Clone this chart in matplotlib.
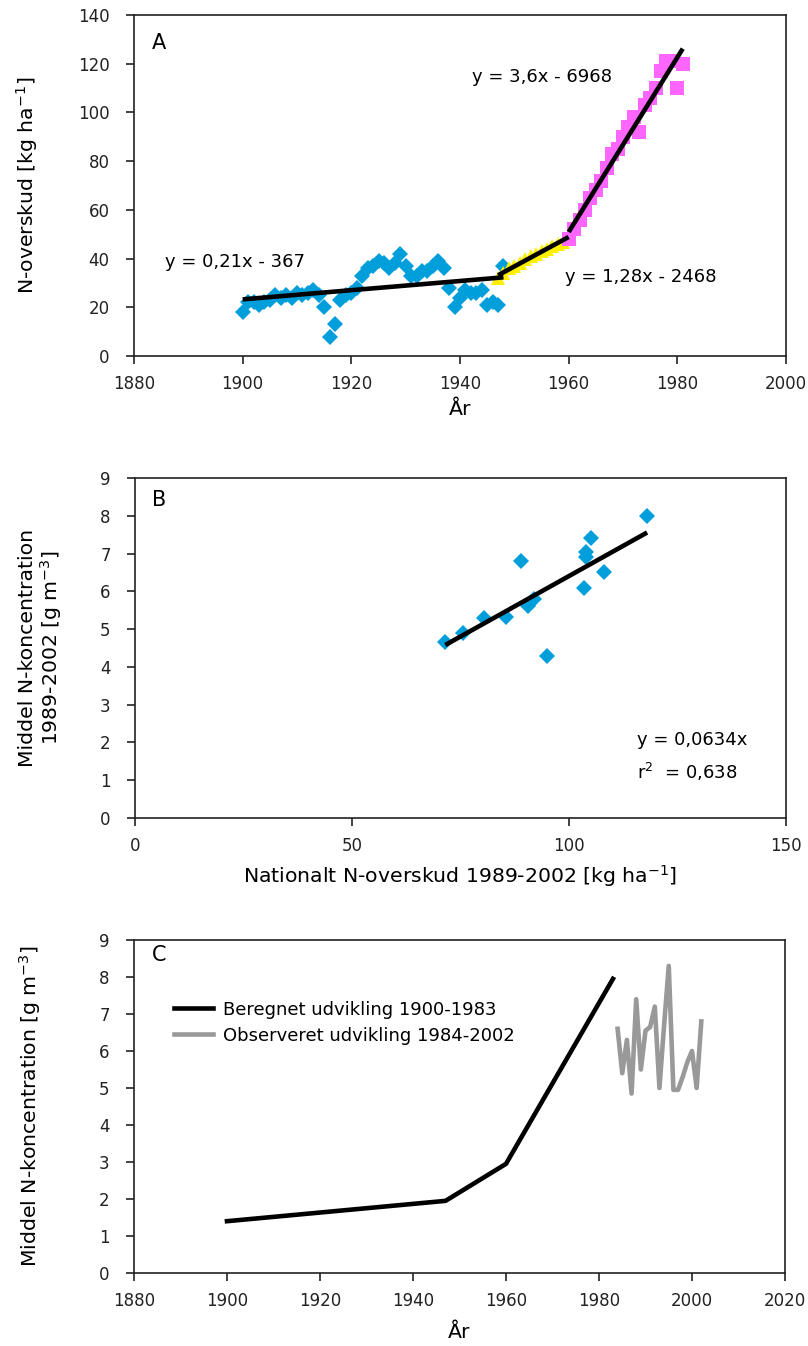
import numpy as np
import matplotlib
matplotlib.use("Agg")
import matplotlib.pyplot as plt

plt.rcParams['font.family'] = ['DejaVu Sans']
plt.rcParams['mathtext.fontset'] = 'dejavusans'

# ---------------- data ----------------
# Panel A: N-surplus per year, three periods
blue_years = list(range(1900, 1949))
blue_vals = [18, 22, 22, 21, 22, 23, 25, 24, 25, 24,
             26, 25, 26, 27, 25, 20, 8, 13, 23, 25,
             26, 28, 33, 36, 37, 39, 38, 36, 38, 42,
             37, 33, 33, 35, 35, 37, 39, 36, 28, 20,
             24, 27, 26, 26, 27, 21, 22, 21, 37]
yellow_years = list(range(1947, 1961))
yellow_vals = [32, 34, 36, 37, 38, 40, 41, 42, 43, 44, 45, 46, 47, 49]
magenta_years = list(range(1960, 1982))
magenta_vals = [48, 52, 56, 60, 65, 68, 72, 77, 83, 85, 90,
                94, 98, 92, 103, 106, 110, 117, 121, 121, 110, 120]
eq_labels_A = ["y = 0,21x - 367", "y = 1,28x - 2468", "y = 3,6x - 6968"]

# Panel B: national N surplus vs mean N concentration 1989-2002
b_surplus = [71.5, 75.5, 80.5, 85.5, 89.0, 90.5, 92.0, 95.0,
             103.5, 104.0, 104.0, 105.0, 108.0, 118.0]
b_conc = [4.65, 4.9, 5.3, 5.33, 6.8, 5.6, 5.8, 4.3,
          6.1, 7.05, 6.9, 7.4, 6.5, 8.0]
eq_label_B = "y = 0,0634x"
r2_label_B = "r$^2$  = 0,638"

# Panel C: calculated and observed development
calc_years = [1900, 1947, 1960, 1983]
calc_conc = [1.4, 1.95, 2.95, 7.95]
obs_years = list(range(1984, 2003))
obs_conc = [6.6, 5.4, 6.3, 4.85, 7.4, 5.5, 6.55, 6.65, 7.2, 5.0,
            6.7, 8.3, 4.95, 4.95, 5.3, 5.7, 6.0, 5.0, 6.8]

# ---------------- figure ----------------
W, H = 808, 1346
fig = plt.figure(figsize=(W / 100, H / 100), dpi=100)


def add_ax(l, t, r, b):
    return fig.add_axes([l / W, 1 - b / H, (r - l) / W, (b - t) / H])


TICK_FS = 12
LABEL_FS = 14.7
ANN_FS = 13


def style(ax):
    for s in ax.spines.values():
        s.set_linewidth(1.2)
        s.set_color('#222222')
    ax.tick_params(direction='out', length=5.5, width=1.2, labelsize=TICK_FS,
                   colors='#222222', top=False, right=False)
    ax.tick_params(axis='y', pad=12)
    ax.tick_params(axis='x', pad=8)


def ftext(x, y, s, **kw):
    fig.text(x / W, 1 - y / H, s, **kw)


BLUE = '#009FDB'
YELLOW = '#FFF000'
MAGENTA = '#FF66FF'
GRAY = '#999999'

# Panel A
axA = add_ax(134, 15, 786, 356)
style(axA)
axA.plot(blue_years, blue_vals, 'D', color=BLUE, ms=7.8, mew=0, zorder=2)
axA.plot(yellow_years, yellow_vals, '^', color=YELLOW, ms=10, mew=0, zorder=2)
axA.plot(magenta_years, magenta_vals, 's', color=MAGENTA, ms=10, mew=0, zorder=2)
for yrs, vals in [(blue_years, blue_vals), (yellow_years, yellow_vals),
                  (magenta_years, magenta_vals)]:
    c = np.polyfit(yrs, vals, 1)
    xs = np.array([yrs[0], yrs[-1]], dtype=float)
    axA.plot(xs, np.polyval(c, xs), color='black', lw=3.3,
             solid_capstyle='butt', zorder=3)
axA.set_xlim(1880, 2000)
axA.set_ylim(0, 140)
axA.set_xticks(range(1880, 2001, 20))
axA.set_yticks(range(0, 141, 20))
axA.set_xlabel("År", fontsize=LABEL_FS, va='center')
axA.xaxis.set_label_coords(0.5, (356 - 410) / 341)
axA.set_ylabel("N-overskud [kg ha$^{-1}$]", fontsize=LABEL_FS, va='center')
axA.yaxis.set_label_coords((27 - 134) / 652, 0.5)
ftext(152, 43, "A", fontsize=15, va='center')
ftext(165, 262, eq_labels_A[0], fontsize=ANN_FS, va='center')
ftext(565, 277, eq_labels_A[1], fontsize=ANN_FS, va='center')
ftext(472, 77, eq_labels_A[2], fontsize=ANN_FS, va='center')

# Panel B
axB = add_ax(135, 478, 786, 818)
style(axB)
axB.plot(b_surplus, b_conc, 'D', color=BLUE, ms=8.5, mew=0, zorder=2)
xb = np.array(b_surplus)
yb = np.array(b_conc)
slope = np.sum(xb * yb) / np.sum(xb * xb)
xl = np.array([xb.min(), xb.max()])
axB.plot(xl, slope * xl, color='black', lw=3.3, solid_capstyle='butt', zorder=3)
axB.set_xlim(0, 150)
axB.set_ylim(0, 9)
axB.set_xticks([0, 50, 100, 150])
axB.set_yticks(range(0, 10))
axB.set_xlabel("Nationalt N-overskud 1989-2002 [kg ha$^{-1}$]",
               fontsize=LABEL_FS, va='center')
axB.xaxis.set_label_coords(0.5, (818 - 876) / 340)
axB.set_ylabel("Middel N-koncentration\n1989-2002 [g m$^{-3}$]",
               fontsize=LABEL_FS, linespacing=1.05, va='center')
axB.yaxis.set_label_coords((41 - 135) / 651, 0.5)
ftext(152, 500, "B", fontsize=15, va='center')
ftext(637, 740, eq_label_B, fontsize=ANN_FS, va='center')
ftext(637, 772, r2_label_B, fontsize=ANN_FS, va='center')

# Panel C
axC = add_ax(134, 940, 785, 1273)
style(axC)
axC.plot(calc_years, calc_conc, color='black', lw=3.3,
         label="Beregnet udvikling 1900-1983")
axC.plot(obs_years, obs_conc, color=GRAY, lw=3.3,
         label="Observeret udvikling 1984-2002")
axC.set_xlim(1880, 2020)
axC.set_ylim(0, 9)
axC.set_xticks(range(1880, 2021, 20))
axC.set_yticks(range(0, 10))
axC.set_xlabel("År", fontsize=LABEL_FS, va='center')
axC.xaxis.set_label_coords(0.5, (1273 - 1333) / 333)
axC.set_ylabel("Middel N-koncentration [g m$^{-3}$]", fontsize=LABEL_FS,
               va='center')
axC.yaxis.set_label_coords((30 - 134) / 651, 0.5)
axC.legend(loc='upper left', bbox_to_anchor=(0.05, 0.84), frameon=False,
           fontsize=ANN_FS, handlelength=2.2, handletextpad=0.5,
           labelspacing=0.45, borderaxespad=0)
ftext(152, 955, "C", fontsize=15, va='center')

fig.savefig("out.png", dpi=100)
